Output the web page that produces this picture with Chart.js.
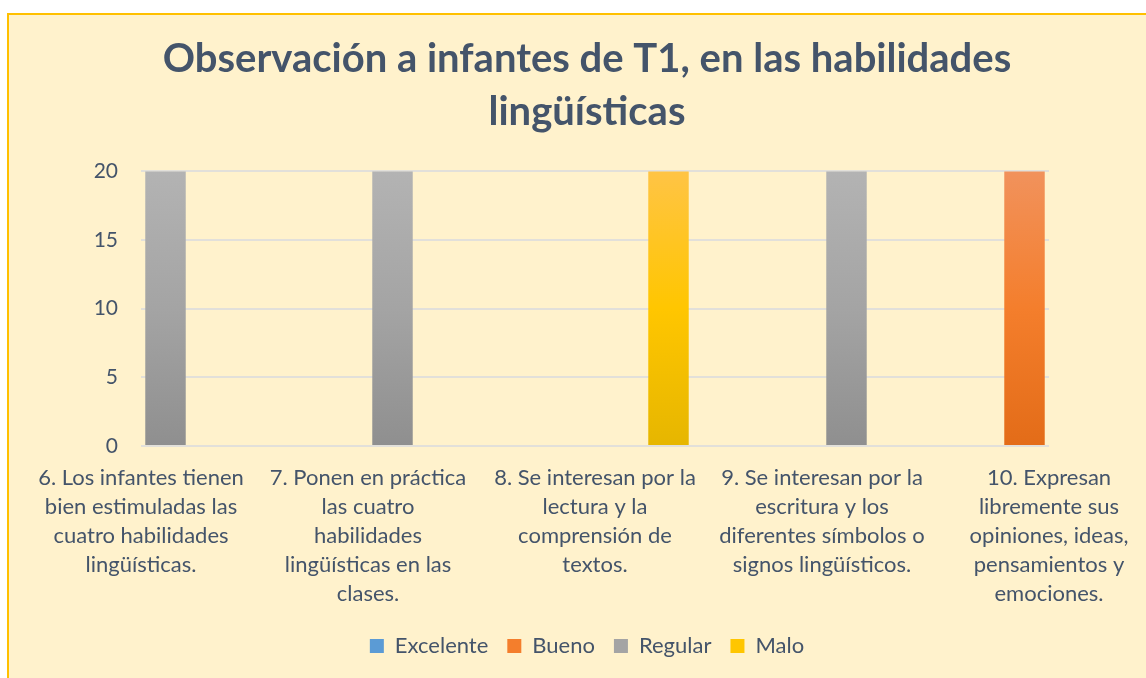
<!DOCTYPE html>
<html><head><meta charset="utf-8">
<script src="https://cdn.jsdelivr.net/npm/chart.js@4.4.1/dist/chart.umd.min.js"></script>
<style>
html,body{margin:0;padding:0;background:#ffffff;overflow:hidden;width:1146px;height:678px;}
#frame{position:absolute;left:7px;top:13px;width:1156px;height:680px;border:2px solid #FFC000;background:#FFF2CC;}
#wrap{position:absolute;left:0;top:0;width:1156px;height:663px;}
</style></head><body>
<div id="frame"><div id="wrap"><canvas id="c" width="1156" height="663"></canvas></div></div>
<script>
// ---- data ----
const titleLines = ["Observación a infantes de T1, en las habilidades", "lingüísticas"];
const categories = [
  ["6. Los infantes tienen", "bien estimuladas las", "cuatro habilidades", "lingüísticas."],
  ["7. Ponen en práctica", "las cuatro", "habilidades", "lingüísticas en las", "clases."],
  ["8. Se interesan por la", "lectura y la", "comprensión de", "textos."],
  ["9. Se interesan por la", "escritura y los", "diferentes símbolos o", "signos lingüísticos."],
  ["10. Expresan", "libremente sus", "opiniones, ideas,", "pensamientos y", "emociones."]
];
const seriesNames = ["Excelente", "Bueno", "Regular", "Malo"];
const excelente = [0, 0, 0, 0, 0];
const bueno = [0, 0, 0, 0, 20];
const regular = [20, 20, 0, 20, 0];
const malo = [0, 0, 20, 0, 0];
const yTicks = [0, 5, 10, 15, 20];

// ---- styles ----
const textColor = '#44546A';
const palette = [
  ['#7FB1E0', '#5B9BD5', '#4A88C6'],
  ['#F1925C', '#F47E2C', '#E36C18'],
  ['#B3B3B3', '#A4A4A4', '#8F8F8F'],
  ['#FFC445', '#FFC600', '#E6B600']
];
function grad(stops) {
  return (ctx) => {
    const ch = ctx.chart, a = ch.chartArea;
    if (!a) return stops[1];
    const g = ch.ctx.createLinearGradient(0, a.top, 0, a.bottom);
    g.addColorStop(0, stops[0]);
    g.addColorStop(0.5, stops[1]);
    g.addColorStop(1, stops[2]);
    return g;
  };
}
const seriesValues = [excelente, bueno, regular, malo];

Chart.defaults.font.family = 'Lato, "Open Sans", sans-serif';
Chart.defaults.color = textColor;

new Chart(document.getElementById('c'), {
  type: 'bar',
  data: {
    labels: categories,
    datasets: seriesNames.map((n, i) => ({
      label: n,
      data: seriesValues[i],
      backgroundColor: grad(palette[i]),
      borderWidth: 0,
      categoryPercentage: 0.8634,
      barPercentage: 0.826,
      clip: false
    }))
  },
  options: {
    responsive: false,
    animation: false,
    layout: { padding: { left: 0, right: 0, top: 0, bottom: 11 } },
    plugins: {
      title: {
        display: true,
        text: titleLines,
        color: textColor,
        font: { size: 40, weight: 'bold', lineHeight: 1.33 },
        padding: { top: 17, bottom: 33 }
      },
      legend: {
        position: 'bottom',
        labels: {
          color: textColor,
          font: { size: 22 },
          boxWidth: 14,
          boxHeight: 14,
          padding: 19,
          generateLabels: (chart) => chart.data.datasets.map((d, i) => ({
            text: d.label, fillStyle: palette[i][1], strokeStyle: palette[i][1],
            lineWidth: 0, hidden: false, datasetIndex: i, fontColor: textColor
          }))
        }
      },
      tooltip: { enabled: false }
    },
    scales: {
      x: {
        offset: false,
        grid: { display: false },
        border: { display: false },
        ticks: {
          color: textColor, autoSkip: false, maxRotation: 0, minRotation: 0,
          font: { size: 22, lineHeight: 1.32 }, padding: 9
        },
        afterFit: (s) => { s.height = 170; }
      },
      y: {
        min: 0, max: 20,
        afterBuildTicks: (s) => { s.ticks = yTicks.map(v => ({ value: v })); },
        grid: { color: '#E2E0DA', lineWidth: 2, drawTicks: false },
        border: { display: false },
        ticks: { color: textColor, font: { size: 21 }, padding: 23 },
        afterFit: (s) => { s.width = 132; }
      },
      spacer: {
        type: 'linear', position: 'right', display: true,
        grid: { display: false }, border: { display: false },
        ticks: { display: false },
        afterFit: (s) => { s.width = 116; }
      }
    }
  }
});
</script>
</body></html>
